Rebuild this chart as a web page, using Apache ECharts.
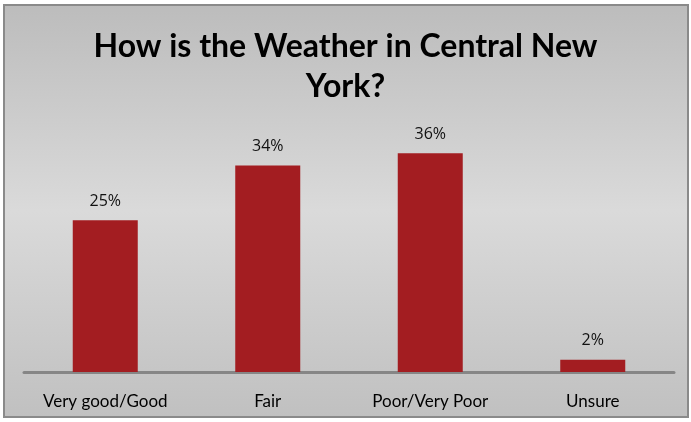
<!DOCTYPE html>
<html>
<head>
<meta charset="utf-8">
<script src="https://cdn.jsdelivr.net/npm/echarts@6/dist/echarts.min.js"></script>
<style>
    html, body { margin: 0; padding: 0; background: #fff; }
    #chart { width: 691px; height: 422px; }
</style>
</head>
<body>
<div id="chart"></div>
<script>
// chart data
const categories = ["Very good/Good", "Fair", "Poor/Very Poor", "Unsure"];
const percentValues = [25, 34, 36, 2];
const titleText = "How is the Weather in Central New\nYork?";

const chart = echarts.init(document.getElementById("chart"));

chart.setOption({
    animation: false,
    textStyle: { fontFamily: "Lato" },
    graphic: [
        {
            type: "rect",
            z: -10,
            shape: { x: 4, y: 5, width: 684, height: 412 },
            style: {
                fill: new echarts.graphic.LinearGradient(0, 0, 0, 1, [
                    { offset: 0, color: "#bcbcbc" },
                    { offset: 0.5, color: "#dadada" },
                    { offset: 1, color: "#c0c0c0" }
                ]),
                stroke: "#8a8a8a",
                lineWidth: 2
            }
        }
    ],
    title: {
        text: titleText,
        left: "center",
        top: 22,
        textStyle: {
            fontSize: 32,
            fontWeight: "bold",
            color: "#000",
            lineHeight: 40
        }
    },
    grid: {
        left: 24,
        right: 17,
        top: 129,
        bottom: 50,
        containLabel: false
    },
    xAxis: {
        type: "category",
        data: categories,
        axisLine: { lineStyle: { color: "#868686", width: 3 } },
        axisTick: { show: false },
        axisLabel: { fontSize: 17, color: "#000", margin: 21 }
    },
    yAxis: {
        type: "value",
        min: 0,
        max: 40,
        show: false
    },
    series: [
        {
            type: "bar",
            data: percentValues,
            barWidth: "40%",
            itemStyle: { color: "#a31d21" },
            label: {
                show: true,
                position: "top",
                distance: 11,
                fontSize: 16,
                fontFamily: "Open Sans",
                color: "#111",
                formatter: "{c}%"
            }
        }
    ]
});
</script>
</body>
</html>
